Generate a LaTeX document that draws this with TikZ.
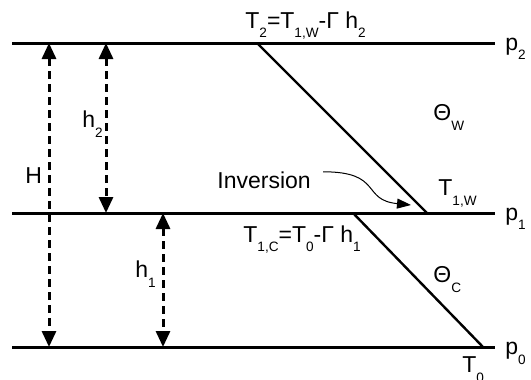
\documentclass[tikz,border=0pt]{standalone}
\usepackage{fontspec}
\setmainfont{Liberation Sans}
\usetikzlibrary{arrows.meta}
\newcommand{\lowsub}[1]{\raisebox{-5pt}{\fontsize{6.8}{7}\selectfont #1}}

\begin{document}
\begin{tikzpicture}[x=0.5pt, y=-0.5pt,
    level/.style={line width=1.5pt},
    lapse/.style={line width=1.2pt},
    dimarrow/.style={line width=1.5pt, dash pattern=on 4pt off 2.5pt,
                     {Triangle[length=8pt,width=7pt]}-{Triangle[length=8pt,width=7pt]}},
    lbl/.style={inner sep=0pt, anchor=base west, font=\fontsize{11.5}{13}\selectfont}]
  \useasboundingbox (0,0) rectangle (531,380);
  % pressure levels
  \coordinate (p2w) at (12,43);  \coordinate (p2e) at (495,43);
  \coordinate (p1w) at (12,213); \coordinate (p1e) at (495,213);
  \coordinate (p0w) at (12,347); \coordinate (p0e) at (495,347);
  \draw[level] (p2w) -- (p2e);
  \draw[level] (p1w) -- (p1e);
  \draw[level] (p0w) -- (p0e);
  \node[lbl] (lp2) at (505,50) {p\lowsub{2}};
  \node[lbl] (lp1) at (505,220) {p\lowsub{1}};
  \node[lbl] (lp0) at (505,354) {p\lowsub{0}};
  % temperature profiles
  \coordinate (t2) at (257,43);  \coordinate (t1w) at (427,213);
  \coordinate (t1c) at (353,213); \coordinate (t0) at (483,347);
  \draw[lapse] (t2) -- (t1w);
  \draw[lapse] (t1c) -- (t0);
  % heights
  \coordinate (Ht) at (49,43);   \coordinate (Hb) at (49,347);
  \coordinate (h2t) at (106,43); \coordinate (h2b) at (106,213);
  \coordinate (h1t) at (163,213); \coordinate (h1b) at (163,347);
  \draw[dimarrow] (Ht) -- (Hb);
  \draw[dimarrow] (h2t) -- (h2b);
  \draw[dimarrow] (h1t) -- (h1b);
  \node[lbl] (H) at (25,183) {H};
  \node[lbl] (h2) at (82,127) {h\lowsub{2}};
  \node[lbl] (h1) at (135,277) {h\lowsub{1}};
  % labels
  \node[lbl] (T2) at (245,28) {T\lowsub{2}=T\lowsub{1,W}-Γ h\lowsub{2}};
  \node[lbl] (T1C) at (243,242) {T\lowsub{1,C}=T\lowsub{0}-Γ h\lowsub{1}};
  \node[lbl] (T1W) at (438,195) {T\lowsub{1,W}};
  \node[lbl] (T0) at (462,372) {T\lowsub{0}};
  \node[lbl] (thw) at (433,120) {Θ\lowsub{W}};
  \node[lbl] (thc) at (433,282) {Θ\lowsub{C}};
  \node[lbl] (inv) at (217,188) {Inversion};
  \coordinate (invtip) at (411,205);
  \draw[line width=0.5pt, -{Triangle[length=7pt,width=5pt]}]
    ([xshift=6pt,yshift=4pt]inv.east) .. controls +(60,0) and +(-50,-5) .. (invtip);
\end{tikzpicture}
\end{document}
